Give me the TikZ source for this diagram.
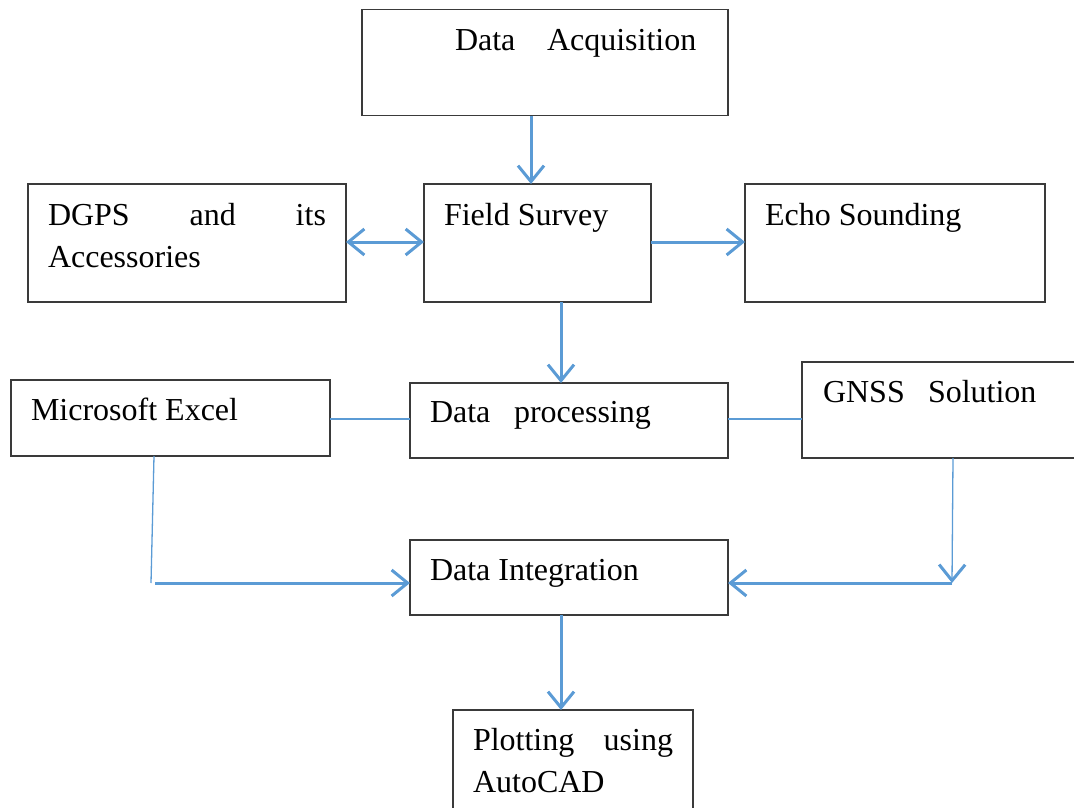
\documentclass[tikz,border=0pt]{standalone}
\usepackage{fontspec}
\setmainfont{Liberation Serif}
\usetikzlibrary{arrows.meta}
\definecolor{flowblue}{HTML}{5B9BD5}
\definecolor{boxgray}{HTML}{3A3A3A}
\tikzset{
  box/.style={draw=boxgray, line width=1.6pt, anchor=north west, inner sep=0pt, outer sep=0pt},
  txt/.style={anchor=base west, inner sep=0pt, outer sep=0pt, font=\fontsize{32}{42}\selectfont},
  barb/.style={-{Straight Barb[length=16pt,width=26pt,line width=3pt]}},
  flow/.style={draw=flowblue, line width=3pt, barb},
  flowboth/.style={draw=flowblue, line width=3pt, {Straight Barb[length=16pt,width=26pt,line width=3pt]}-{Straight Barb[length=16pt,width=26pt,line width=3pt]}},
  thin/.style={draw=flowblue, line width=1.3pt},
}
\begin{document}
\begin{tikzpicture}[x={(1pt,0)}, y={(0,-1pt)}]
\useasboundingbox (0,0) rectangle (1074,808);
\begin{scope}
\clip (0,0) rectangle (1074,808);
% boxes
\node[box, minimum width=366pt, minimum height=106pt] (da) at (362,9.5) {};
\node[box, minimum width=227pt, minimum height=118pt] (fs) at (424,184) {};
\node[box, minimum width=318pt, minimum height=118pt] (dg) at (28,184) {};
\node[box, minimum width=300pt, minimum height=118pt] (es) at (745,184) {};
\node[box, minimum width=319pt, minimum height=76pt] (me) at (11,380) {};
\node[box, minimum width=318pt, minimum height=75pt] (dp) at (410,383) {};
\node[box, minimum width=290pt, minimum height=96pt] (gn) at (802,362) {};
\node[box, minimum width=318pt, minimum height=75pt] (di) at (410,540) {};
\node[box, minimum width=240pt, minimum height=120pt] (pl) at (453,710) {};
\end{scope}
% texts
\node[txt] (tda1) at (455,51) {Data};
\node[txt] (tda2) at (547,51) {Acquisition};
\node[txt] (tfs) at (444,225) {Field Survey};
\node[txt, text width=278pt] (tdg) at (48,225) {DGPS\hfill and\hfill its\\Accessories};
\node[txt] (tes) at (765,225) {Echo Sounding};
\node[txt] (tme) at (31,420) {Microsoft Excel};
\node[txt] (tdp1) at (430,422) {Data};
\node[txt] (tdp2) at (514,422) {processing};
\node[txt] (tgn1) at (823,402) {GNSS};
\node[txt] (tgn2) at (928,402) {Solution};
\node[txt] (tdi) at (430,580) {Data Integration};
\node[txt, text width=200pt] (tpl) at (473,750) {Plotting\hfill using\\AutoCAD};
% coordinates
\coordinate (lc) at (151,583);
\coordinate (rc) at (952,583);
\coordinate (a1) at ([xshift=-14pt]da.south);
\coordinate (a4) at ([xshift=23.5pt]fs.south);
\coordinate (a9) at ([xshift=-8pt]di.south);
% connectors
\draw[flow] (a1) -- (a1 |- fs.north);
\draw[flowboth] (dg.east |- 0,242) -- (fs.west |- 0,242);
\draw[flow] (fs.east |- 0,242) -- (es.west |- 0,242);
\draw[flow] (a4) -- (a4 |- dp.north);
\draw[thin] (me.east |- 0,419) -- (dp.west |- 0,419);
\draw[thin] (dp.east |- 0,419) -- (gn.west |- 0,419);
\draw[thin] ([xshift=-16.5pt]me.south) -- (lc);
\draw[flow] ([xshift=4pt]lc) -- (di.west |- lc);
\draw[thin, barb] ([xshift=6pt]gn.south) -- (rc);
\draw[flow] (rc) -- (di.east |- rc);
\draw[flow] (a9) -- (a9 |- pl.north);
\end{tikzpicture}
\end{document}
